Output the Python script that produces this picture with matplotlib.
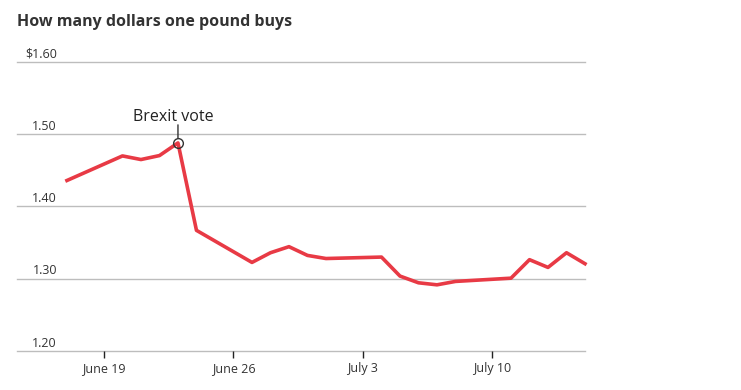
import matplotlib
matplotlib.use("Agg")
import matplotlib.pyplot as plt
import matplotlib.dates as mdates

dates = ["2016-06-17", "2016-06-20", "2016-06-21", "2016-06-22", "2016-06-23",
         "2016-06-24", "2016-06-27", "2016-06-28", "2016-06-29", "2016-06-30",
         "2016-07-01", "2016-07-04", "2016-07-05", "2016-07-06", "2016-07-07",
         "2016-07-08", "2016-07-11", "2016-07-12", "2016-07-13", "2016-07-14",
         "2016-07-15"]
rates = [1.436, 1.470, 1.465, 1.4705, 1.488,
         1.367, 1.3226, 1.336, 1.3444, 1.3323,
         1.328, 1.330, 1.3037, 1.2944, 1.2916,
         1.2963, 1.3008, 1.3264, 1.3157, 1.336,
         1.3208]
ytick_vals = [1.20, 1.30, 1.40, 1.50, 1.60]
ytick_labels = ["1.20", "1.30", "1.40", "1.50", "$1.60"]
xtick_dates = ["2016-06-19", "2016-06-26", "2016-07-03", "2016-07-10"]
xtick_labels = ["June 19", "June 26", "July 3", "July 10"]
title = "How many dollars one pound buys"
event_date = "2016-06-23"
event_label = "Brexit vote"

plt.rcParams['font.family'] = ['Open Sans', 'DejaVu Sans']

x = mdates.datestr2num(dates)
fig = plt.figure(figsize=(7.41, 3.90), dpi=100)
ax = fig.add_axes([17/741, 1 - 351/390, (585-17)/741, (351-62)/390])

ax.set_xlim(mdates.datestr2num("2016-06-14") + 0.3, mdates.datestr2num("2016-07-15"))
ax.set_ylim(1.20, 1.60)

for v in ytick_vals:
    ax.axhline(v, color="#bdbdbd", lw=1.0, zorder=1, clip_on=False)

ax.plot(x, rates, color="#e83a45", lw=2.6, solid_joinstyle="round", zorder=3, clip_on=False)

ei = dates.index(event_date)
ax.plot(x[ei], rates[ei], marker="o", ms=7, mfc="none", mec="#333333", mew=1.0, zorder=4)
ax.annotate("", xy=(x[ei], rates[ei]), xytext=(0, 13), textcoords="offset points",
            arrowprops=dict(arrowstyle="-", color="#333333", lw=1.0, shrinkA=0, shrinkB=3.5))
ax.annotate(event_label, xy=(x[ei], rates[ei]), xytext=(-3, 13), textcoords="offset points",
            ha="center", va="bottom", fontsize=11.5, color="#222222")

for v, lab in zip(ytick_vals, ytick_labels):
    ax.text(40/568, v + 0.002, lab, transform=ax.get_yaxis_transform(), ha="right", va="bottom",
            fontsize=9, color="#333333")

ax.set_yticks([])
ax.set_xticks(mdates.datestr2num(xtick_dates))
ax.set_xticklabels(xtick_labels, fontsize=9, color="#333333")
ax.tick_params(axis="x", length=5, width=1, color="#222222", pad=3)
for s in ax.spines.values():
    s.set_visible(False)

fig.text(17/741, 1 - 22/390, title, fontsize=11.5, fontweight="bold", color="#333333",
         ha="left", va="center")

fig.savefig("out.png", dpi=100)
